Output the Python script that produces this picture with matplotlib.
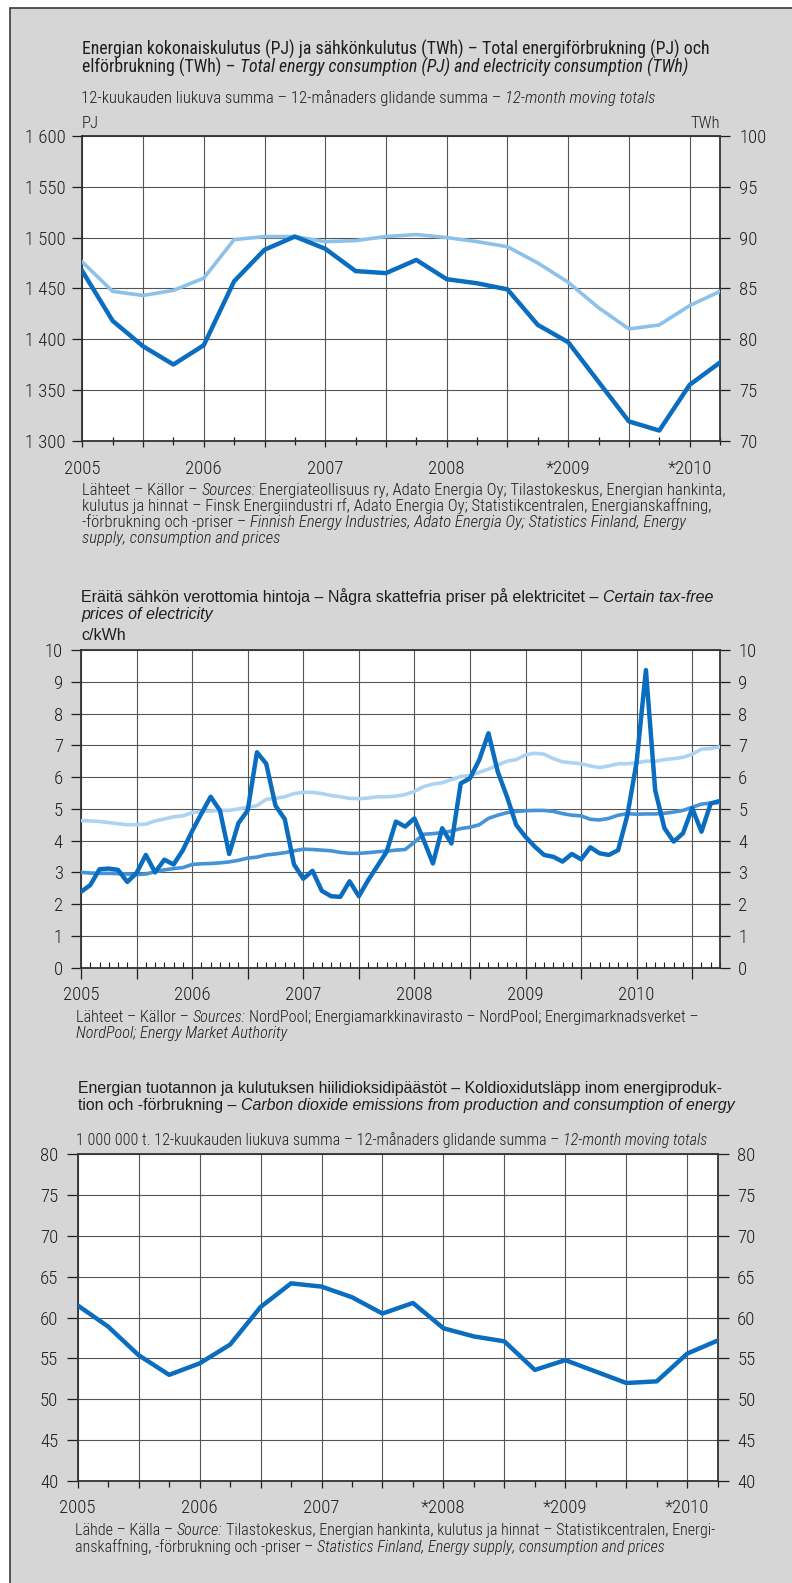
import numpy as np
import matplotlib
matplotlib.use('Agg')
import matplotlib.pyplot as plt
from matplotlib import font_manager as fm
from matplotlib.patches import Rectangle

# ---------------- data ----------------
# Chart 1: quarterly, 2005 Q1 .. 2010 Q2
pj_total = [1467, 1418, 1393, 1375, 1394, 1457, 1488, 1501, 1489, 1467, 1465,
            1478, 1459, 1455, 1449, 1414, 1397, 1358, 1319, 1310, 1355, 1377]
twh_elec = [87.6, 84.7, 84.3, 84.8, 86.0, 89.8, 90.1, 90.1, 89.6, 89.7, 90.1,
            90.3, 90.0, 89.6, 89.1, 87.5, 85.6, 83.1, 81.0, 81.4, 83.3, 84.7]
pj_ticks = [1300, 1350, 1400, 1450, 1500, 1550, 1600]
pj_ticklabels = ['1 300', '1 350', '1 400', '1 450', '1 500', '1 550', '1 600']
twh_ticks = [70, 75, 80, 85, 90, 95, 100]
years1 = ['2005', '2006', '2007', '2008', '*2009', '*2010']

# Chart 2: monthly prices c/kWh, Jan 2005 .. Oct 2010
price_spot = [2.39, 2.6, 3.1, 3.12, 3.08, 2.7, 2.98, 3.55, 3.0, 3.4, 3.25, 3.7,
              4.3, 4.85, 5.38, 4.95, 3.58, 4.55, 4.95, 6.78, 6.42, 5.1, 4.68, 3.25,
              2.8, 3.05, 2.42, 2.25, 2.23, 2.72, 2.25, 2.75, 3.2, 3.65, 4.6, 4.44,
              4.7, 4.02, 3.28, 4.39, 3.91, 5.8, 5.96, 6.54, 7.38, 6.17, 5.38, 4.49,
              4.12, 3.81, 3.55, 3.49, 3.34, 3.58, 3.41, 3.79, 3.6, 3.55, 3.7, 4.8,
              6.48, 9.37, 5.59, 4.39, 3.97, 4.23, 5.02, 4.28, 5.17, 5.25]
price_light = [4.63, 4.62, 4.6, 4.57, 4.53, 4.5, 4.5, 4.52, 4.62, 4.68, 4.75, 4.78,
               4.88, 4.92, 4.93, 4.95, 4.95, 5.0, 5.05, 5.1, 5.3, 5.33, 5.38, 5.48,
               5.52, 5.52, 5.48, 5.42, 5.38, 5.33, 5.32, 5.34, 5.38, 5.38, 5.4, 5.45,
               5.55, 5.7, 5.78, 5.82, 5.92, 6.02, 6.05, 6.15, 6.25, 6.38, 6.5, 6.55,
               6.7, 6.75, 6.72, 6.58, 6.48, 6.45, 6.42, 6.35, 6.3, 6.35, 6.42, 6.42,
               6.45, 6.5, 6.5, 6.55, 6.58, 6.62, 6.72, 6.88, 6.9, 6.95]
price_medium = [3.0, 2.98, 2.97, 2.97, 2.96, 2.95, 2.93, 2.95, 3.02, 3.08, 3.12, 3.15,
                3.25, 3.27, 3.28, 3.3, 3.33, 3.38, 3.45, 3.48, 3.55, 3.58, 3.62, 3.68,
                3.73, 3.72, 3.7, 3.68, 3.63, 3.6, 3.6, 3.62, 3.65, 3.67, 3.7, 3.72,
                3.95, 4.2, 4.22, 4.25, 4.3, 4.38, 4.42, 4.5, 4.7, 4.8, 4.88, 4.92,
                4.94, 4.95, 4.95, 4.92, 4.85, 4.8, 4.78, 4.67, 4.65, 4.7, 4.8, 4.85,
                4.83, 4.84, 4.84, 4.86, 4.9, 4.95, 5.05, 5.15, 5.18, 5.2]
price_ticks = [0, 1, 2, 3, 4, 5, 6, 7, 8, 9, 10]
years2 = ['2005', '2006', '2007', '2008', '2009', '2010']

# Chart 3: quarterly CO2, million t
co2 = [61.5, 58.9, 55.4, 53.0, 54.4, 56.7, 61.3, 64.2, 63.8, 62.5, 60.5,
       61.8, 58.7, 57.7, 57.1, 53.6, 54.8, 53.4, 52.0, 52.2, 55.6, 57.2]
co2_ticks = [40, 45, 50, 55, 60, 65, 70, 75, 80]
years3 = ['2005', '2006', '2007', '*2008', '*2009', '*2010']

# time axes
qx = 2005 + np.arange(len(pj_total)) / 4.0
mx = 2005 + np.arange(len(price_spot)) / 12.0
cx = 2005 + np.arange(len(co2)) / 4.0

# ---------------- fonts ----------------
avail = {f.name for f in fm.fontManager.ttflist}
def pick(cands, default):
    for c in cands:
        if c in avail:
            return c
    return default
NARROW = pick(['Liberation Sans Narrow', 'Roboto Condensed', 'Open Sans Condensed',
               'Noto Sans Condensed', 'Arial Narrow'], 'DejaVu Sans')
REG = pick(['Liberation Sans', 'Roboto', 'Noto Sans'], 'DejaVu Sans')

plt.rcParams['font.family'] = [NARROW, 'DejaVu Sans']
plt.rcParams['font.stretch'] = 'condensed'

W, H = 792, 1583
fig = plt.figure(figsize=(W / 100, H / 100), dpi=100)
fig.patch.set_facecolor('white')
BG = '#d6d6d6'
fig.patches.append(Rectangle((10 / W, -0.05), 1.2, 1 - 8 / H + 0.05,
                             transform=fig.transFigure, facecolor=BG,
                             edgecolor='#3a3a3a', lw=1.2, zorder=-10))

TXT = '#1e1e1e'
DARK = '#0a6dc0'
LIGHT1 = '#8cc1ea'
LIGHT2 = '#acd4f2'
MED = '#4493d7'
GRID = '#555555'

renderer = fig.canvas.get_renderer()

def _w(s, **kw):
    t = fig.text(0, 0, s, **kw)
    w = t.get_window_extent(renderer).width
    t.remove()
    return w

def rich(x, y, segs, size, family=None, stretch='normal', weight='normal'):
    """Draw a line of mixed upright/italic segments; y = centre of capitals (px from top)."""
    fam = family if family else NARROW
    base = dict(fontsize=size, family=[fam, 'DejaVu Sans'], fontstretch=stretch,
                fontweight=weight, color=TXT)
    ybase = y + 0.355 * size * 100 / 72
    cxp = x
    for txt, it in segs:
        kw = dict(base, style='italic' if it else 'normal')
        sw = _w('x x', **kw) - _w('xx', **kw)
        lead = len(txt) - len(txt.lstrip(' '))
        trail = len(txt) - len(txt.rstrip(' '))
        core = txt.strip(' ')
        cxp += lead * sw
        if core:
            t = fig.text(cxp / W, 1 - ybase / H, core, ha='left', va='baseline', **kw)
            cxp += t.get_window_extent(renderer).width
        cxp += trail * sw

def axrect(l, t, r, b):
    return [l / W, 1 - b / H, (r - l) / W, (b - t) / H]

def style(ax):
    ax.set_facecolor('white')
    for s in ax.spines.values():
        s.set_color('#333333')
        s.set_linewidth(1.3)

TICKSIZE = 13.5

def lighten_ticklabels(*axes):
    for ax in axes:
        for lab in ax.get_xticklabels() + ax.get_yticklabels():
            lab.set_fontweight('light')

# ================= Chart 1 =================
rich(82, 48, [('Energian kokonaiskulutus (PJ) ja sähkönkulutus (TWh) – Total energiförbrukning (PJ) och', False)], 12.8)
rich(82, 66, [('elförbrukning (TWh) – ', False),
              ('Total energy consumption (PJ) and electricity consumption (TWh)', True)], 12.8)
rich(81, 97, [('12-kuukauden liukuva summa – 12-månaders glidande summa – ', False),
              ('12-month moving totals', True)], 12.1, weight='light')
rich(82, 122, [('PJ', False)], 12.1, weight='light')
fig.text(720 / W, 1 - (122 + 0.355 * 12.1 * 100 / 72) / H, 'TWh', ha='right', va='baseline',
         fontsize=12.1, color=TXT, fontweight='light')

a1 = fig.add_axes(axrect(82.3, 136, 720, 440.7))
style(a1)
a1.plot(qx, twh_elec, color=LIGHT1, lw=2.6, zorder=3)
a1.set_xlim(2005, 2010.25)
a1.set_ylim(70, 100)
t1 = a1.twinx()
t1.plot(qx, pj_total, color=DARK, lw=3.2, zorder=4)
t1.set_ylim(1300, 1600)
t1.yaxis.tick_left()
t1.set_yticks(pj_ticks, pj_ticklabels)
a1.yaxis.tick_right()
a1.set_yticks(twh_ticks, [str(v) for v in twh_ticks])
half1 = np.arange(2005, 2010.26, 0.5)
a1.set_xticks(half1, [years1[int(v - 2005)] if v == int(v) else '' for v in half1])
a1.set_xticks(np.arange(2005, 2010.26, 0.25), minor=True)
a1.grid(True, which='major', color=GRID, lw=0.8)
a1.set_axisbelow(True)
t1.tick_params(axis='y', direction='out', length=7, width=0.9, pad=5, labelsize=TICKSIZE, colors=TXT)
a1.tick_params(axis='y', direction='out', length=7, width=0.9, pad=7, labelsize=TICKSIZE, colors=TXT)
a1.tick_params(axis='x', which='major', direction='out', length=4, width=0.9, pad=10, labelsize=TICKSIZE, colors=TXT)
a1.tick_params(axis='x', which='minor', direction='inout', length=6, width=0.9, colors=TXT)
for s in t1.spines.values():
    s.set_visible(False)
lighten_ticklabels(a1, t1)

SRC1 = 12.0
rich(82, 489, [('Lähteet – Källor – ', False), ('Sources:', True),
               (' Energiateollisuus ry, Adato Energia Oy; Tilastokeskus, Energian hankinta,', False)], SRC1, weight='light')
rich(82, 505, [('kulutus ja hinnat – Finsk Energiindustri rf, Adato Energia Oy; Statistikcentralen, Energianskaffning,', False)], SRC1, weight='light')
rich(82, 521, [('-förbrukning och -priser – ', False),
               ('Finnish Energy Industries, Adato Energia Oy; Statistics Finland, Energy', True)], SRC1, weight='light')
rich(82, 537, [('supply, consumption and prices', True)], SRC1, weight='light')

# ================= Chart 2 =================
T2 = 11.5
rich(81, 596, [('Eräitä sähkön verottomia hintoja – Några skattefria priser på elektricitet – ', False),
               ('Certain tax-free', True)], T2, family=REG)
rich(81, 613, [('prices of electricity', True)], T2, family=REG)
rich(81, 634, [('c/kWh', False)], T2, family=REG)

a2 = fig.add_axes(axrect(81, 650, 720, 967.7))
style(a2)
a2.plot(mx, price_light, color=LIGHT2, lw=2.6, zorder=3)
a2.plot(mx, price_medium, color=MED, lw=2.6, zorder=3)
a2.plot(mx, price_spot, color=DARK, lw=3.2, zorder=4)
a2.set_xlim(2005, 2010.75)
a2.set_ylim(0, 10)
a2.set_yticks(price_ticks, [str(v) for v in price_ticks])
half2 = np.arange(2005, 2010.76, 0.5)
a2.set_xticks(half2, [years2[int(v - 2005)] if v == int(v) else '' for v in half2])
a2.set_xticks(2005 + np.arange(0, 70) / 12.0, minor=True)
a2.grid(True, which='major', color=GRID, lw=0.8)
a2.set_axisbelow(True)
a2.tick_params(axis='y', direction='out', length=7, width=0.9, pad=6, labelsize=TICKSIZE,
               colors=TXT, left=True, right=True, labelleft=True, labelright=True)
a2.tick_params(axis='x', which='major', direction='out', length=8, width=0.9, pad=5, labelsize=TICKSIZE, colors=TXT)
a2.tick_params(axis='x', which='minor', direction='in', length=4, width=0.8, colors=TXT)
lighten_ticklabels(a2)

SRC2 = 11.7
rich(76, 1016, [('Lähteet – Källor – ', False), ('Sources:', True),
                (' NordPool; Energiamarkkinavirasto – NordPool; Energimarknadsverket –', False)], SRC2, weight='light')
rich(76, 1032, [('NordPool; Energy Market Authority', True)], SRC2, weight='light')

# ================= Chart 3 =================
T3 = 11.4
rich(78, 1087, [('Energian tuotannon ja kulutuksen hiilidioksidipäästöt – Koldioxidutsläpp inom energiproduk-', False)],
     T3, family=REG)
rich(78, 1104, [('tion och -förbrukning – ', False),
                ('Carbon dioxide emissions from production and consumption of energy', True)], T3, family=REG)
rich(76, 1139, [('1 000 000 t. 12-kuukauden liukuva summa – 12-månaders glidande summa – ', False),
                ('12-month moving totals', True)], 11.6, weight='light')

a3 = fig.add_axes(axrect(77.7, 1154.3, 717.7, 1481))
style(a3)
a3.plot(cx, co2, color=DARK, lw=3.2, zorder=4)
a3.set_xlim(2005, 2010.25)
a3.set_ylim(40, 80)
a3.set_yticks(co2_ticks, [str(v) for v in co2_ticks])
half3 = np.arange(2005, 2010.26, 0.5)
a3.set_xticks(half3, [years3[int(v - 2005)] if v == int(v) else '' for v in half3])
a3.set_xticks(np.arange(2005, 2010.26, 0.25), minor=True)
a3.grid(True, which='major', color=GRID, lw=0.8)
a3.set_axisbelow(True)
a3.tick_params(axis='y', direction='out', length=8, width=0.9, pad=6, labelsize=TICKSIZE,
               colors=TXT, left=True, right=True, labelleft=True, labelright=True)
a3.tick_params(axis='x', which='major', direction='out', length=5, width=0.9, pad=8, labelsize=TICKSIZE, colors=TXT)
a3.tick_params(axis='x', which='minor', direction='out', length=4, width=0.9, colors=TXT)
lighten_ticklabels(a3)

SRC3 = 11.6
rich(75, 1529, [('Lähde – Källa – ', False), ('Source:', True),
                (' Tilastokeskus, Energian hankinta, kulutus ja hinnat – Statistikcentralen, Energi-', False)], SRC3, weight='light')
rich(75, 1546, [('anskaffning, -förbrukning och -priser – ', False),
                ('Statistics Finland, Energy supply, consumption and prices', True)], SRC3, weight='light')

fig.savefig('out.png', dpi=100, facecolor=fig.get_facecolor())
